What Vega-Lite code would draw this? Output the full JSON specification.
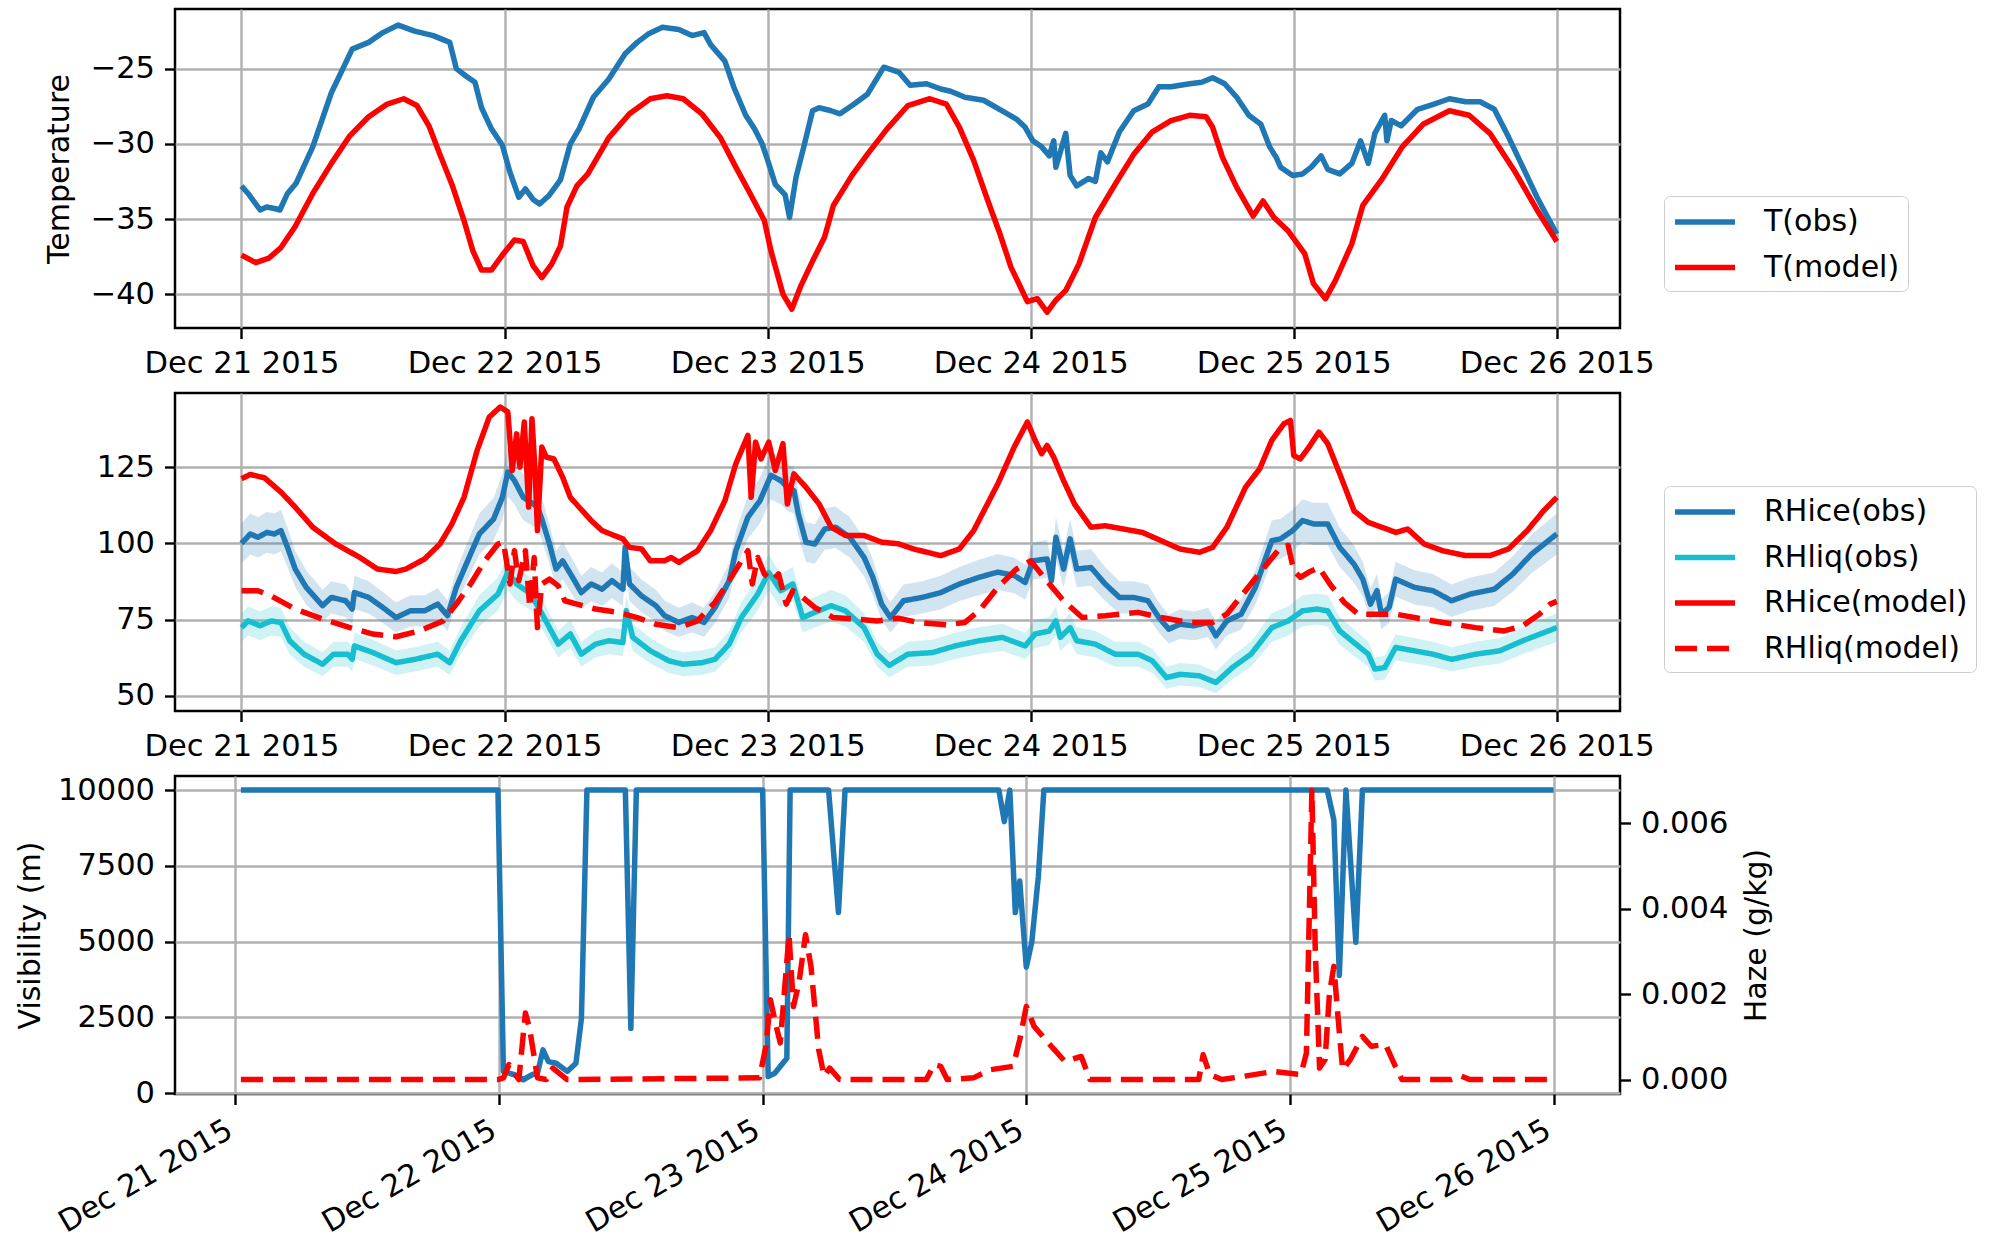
{
"$schema": "https://vega.github.io/schema/vega-lite/v6.json",
"background": "white",
"padding": {"left": 14, "top": 7, "right": 2, "bottom": 2},
"config": {
  "font": "DejaVu Sans",
  "view": {"stroke": "black", "strokeWidth": 2.5},
  "axis": {"domain": false, "grid": true, "gridColor": "#b0b0b0", "gridWidth": 2.4, "tickColor": "black", "tickSize": 10.5, "tickWidth": 2.4,
    "labelFont": "DejaVu Sans", "labelFontSize": 30.5, "labelColor": "black", "labelPadding": 10, "labelFlush": false, "labelOverlap": false, "labelLimit": 500,
    "titleFont": "DejaVu Sans", "titleFontSize": 30, "titleFontWeight": "normal", "titleColor": "black", "titlePadding": 12},
  "legend": {"labelFont": "DejaVu Sans", "labelFontSize": 30, "labelColor": "black", "labelLimit": 400, "symbolType": "M-2,0L2,0", "symbolSize": 900, "symbolStrokeWidth": 5.5,
    "symbolOffset": 15, "rowPadding": 12.5, "padding": 8, "labelOffset": 41, "fillColor": "white", "strokeColor": "#cccccc", "cornerRadius": 6}
},
"datasets": {
"temp": [
{"time":"2015-12-21T00:00","series":"T(obs)","value":-32.8},{"time":"2015-12-21T00:36","series":"T(obs)","value":-33.3},{"time":"2015-12-21T01:42","series":"T(obs)","value":-34.4},{"time":"2015-12-21T02:18","series":"T(obs)","value":-34.2},{"time":"2015-12-21T03:00","series":"T(obs)","value":-34.3},{"time":"2015-12-21T03:30","series":"T(obs)","value":-34.4},{"time":"2015-12-21T04:12","series":"T(obs)","value":-33.3},{"time":"2015-12-21T05:00","series":"T(obs)","value":-32.6},{"time":"2015-12-21T06:30","series":"T(obs)","value":-30.2},{"time":"2015-12-21T08:12","series":"T(obs)","value":-26.6},{"time":"2015-12-21T10:06","series":"T(obs)","value":-23.7},{"time":"2015-12-21T11:36","series":"T(obs)","value":-23.25},{"time":"2015-12-21T12:54","series":"T(obs)","value":-22.6},{"time":"2015-12-21T14:18","series":"T(obs)","value":-22.1},{"time":"2015-12-21T15:48","series":"T(obs)","value":-22.5},{"time":"2015-12-21T17:30","series":"T(obs)","value":-22.8},{"time":"2015-12-21T19:00","series":"T(obs)","value":-23.25},{"time":"2015-12-21T19:36","series":"T(obs)","value":-25.0},{"time":"2015-12-21T20:30","series":"T(obs)","value":-25.5},{"time":"2015-12-21T21:18","series":"T(obs)","value":-25.9},{"time":"2015-12-21T21:54","series":"T(obs)","value":-27.6},{"time":"2015-12-21T22:48","series":"T(obs)","value":-29.0},{"time":"2015-12-21T23:48","series":"T(obs)","value":-30.1},
{"time":"2015-12-22T00:30","series":"T(obs)","value":-31.9},{"time":"2015-12-22T01:18","series":"T(obs)","value":-33.55},{"time":"2015-12-22T01:54","series":"T(obs)","value":-33.0},{"time":"2015-12-22T02:36","series":"T(obs)","value":-33.7},{"time":"2015-12-22T03:12","series":"T(obs)","value":-34.0},{"time":"2015-12-22T04:06","series":"T(obs)","value":-33.4},{"time":"2015-12-22T05:06","series":"T(obs)","value":-32.4},{"time":"2015-12-22T06:00","series":"T(obs)","value":-30.0},{"time":"2015-12-22T06:48","series":"T(obs)","value":-29.0},{"time":"2015-12-22T08:06","series":"T(obs)","value":-26.9},{"time":"2015-12-22T09:30","series":"T(obs)","value":-25.7},{"time":"2015-12-22T11:00","series":"T(obs)","value":-24.0},{"time":"2015-12-22T12:06","series":"T(obs)","value":-23.25},{"time":"2015-12-22T13:06","series":"T(obs)","value":-22.7},{"time":"2015-12-22T14:24","series":"T(obs)","value":-22.25},{"time":"2015-12-22T15:54","series":"T(obs)","value":-22.4},{"time":"2015-12-22T17:06","series":"T(obs)","value":-22.8},{"time":"2015-12-22T18:12","series":"T(obs)","value":-22.6},{"time":"2015-12-22T18:48","series":"T(obs)","value":-23.4},{"time":"2015-12-22T20:06","series":"T(obs)","value":-24.5},{"time":"2015-12-22T20:54","series":"T(obs)","value":-26.2},{"time":"2015-12-22T22:00","series":"T(obs)","value":-28.1},{"time":"2015-12-22T22:48","series":"T(obs)","value":-29.0},{"time":"2015-12-22T23:30","series":"T(obs)","value":-30.0},
{"time":"2015-12-23T00:06","series":"T(obs)","value":-31.3},{"time":"2015-12-23T00:42","series":"T(obs)","value":-32.7},{"time":"2015-12-23T01:36","series":"T(obs)","value":-33.4},{"time":"2015-12-23T02:00","series":"T(obs)","value":-34.9},{"time":"2015-12-23T02:36","series":"T(obs)","value":-32.2},{"time":"2015-12-23T03:18","series":"T(obs)","value":-30.2},{"time":"2015-12-23T04:06","series":"T(obs)","value":-27.8},{"time":"2015-12-23T04:42","series":"T(obs)","value":-27.6},{"time":"2015-12-23T05:48","series":"T(obs)","value":-27.8},{"time":"2015-12-23T06:36","series":"T(obs)","value":-28.0},{"time":"2015-12-23T07:54","series":"T(obs)","value":-27.35},{"time":"2015-12-23T09:06","series":"T(obs)","value":-26.7},{"time":"2015-12-23T10:36","series":"T(obs)","value":-24.9},{"time":"2015-12-23T12:00","series":"T(obs)","value":-25.25},{"time":"2015-12-23T13:00","series":"T(obs)","value":-26.1},{"time":"2015-12-23T14:30","series":"T(obs)","value":-26.0},{"time":"2015-12-23T15:48","series":"T(obs)","value":-26.35},{"time":"2015-12-23T16:42","series":"T(obs)","value":-26.5},{"time":"2015-12-23T18:00","series":"T(obs)","value":-26.9},{"time":"2015-12-23T19:42","series":"T(obs)","value":-27.1},{"time":"2015-12-23T21:24","series":"T(obs)","value":-27.8},{"time":"2015-12-23T22:42","series":"T(obs)","value":-28.35},{"time":"2015-12-23T23:30","series":"T(obs)","value":-28.9},
{"time":"2015-12-24T00:12","series":"T(obs)","value":-29.8},{"time":"2015-12-24T01:00","series":"T(obs)","value":-30.2},{"time":"2015-12-24T01:42","series":"T(obs)","value":-30.8},{"time":"2015-12-24T02:06","series":"T(obs)","value":-29.8},{"time":"2015-12-24T02:18","series":"T(obs)","value":-31.55},{"time":"2015-12-24T03:12","series":"T(obs)","value":-29.3},{"time":"2015-12-24T03:36","series":"T(obs)","value":-32.1},{"time":"2015-12-24T04:12","series":"T(obs)","value":-32.8},{"time":"2015-12-24T05:18","series":"T(obs)","value":-32.3},{"time":"2015-12-24T05:54","series":"T(obs)","value":-32.5},{"time":"2015-12-24T06:24","series":"T(obs)","value":-30.6},{"time":"2015-12-24T07:00","series":"T(obs)","value":-31.2},{"time":"2015-12-24T08:06","series":"T(obs)","value":-29.2},{"time":"2015-12-24T09:24","series":"T(obs)","value":-27.8},{"time":"2015-12-24T10:42","series":"T(obs)","value":-27.35},{"time":"2015-12-24T11:42","series":"T(obs)","value":-26.2},{"time":"2015-12-24T12:48","series":"T(obs)","value":-26.2},{"time":"2015-12-24T14:30","series":"T(obs)","value":-26.0},{"time":"2015-12-24T15:36","series":"T(obs)","value":-25.9},{"time":"2015-12-24T16:36","series":"T(obs)","value":-25.6},{"time":"2015-12-24T17:42","series":"T(obs)","value":-26.0},{"time":"2015-12-24T18:48","series":"T(obs)","value":-26.9},{"time":"2015-12-24T19:54","series":"T(obs)","value":-28.1},{"time":"2015-12-24T21:00","series":"T(obs)","value":-28.7},{"time":"2015-12-24T21:48","series":"T(obs)","value":-30.2},{"time":"2015-12-24T22:24","series":"T(obs)","value":-30.9},{"time":"2015-12-24T22:48","series":"T(obs)","value":-31.55},{"time":"2015-12-24T23:54","series":"T(obs)","value":-32.1},
{"time":"2015-12-25T00:48","series":"T(obs)","value":-32.0},{"time":"2015-12-25T01:36","series":"T(obs)","value":-31.55},{"time":"2015-12-25T02:30","series":"T(obs)","value":-30.8},{"time":"2015-12-25T03:06","series":"T(obs)","value":-31.7},{"time":"2015-12-25T04:12","series":"T(obs)","value":-32.0},{"time":"2015-12-25T05:18","series":"T(obs)","value":-31.3},{"time":"2015-12-25T06:06","series":"T(obs)","value":-29.8},{"time":"2015-12-25T06:48","series":"T(obs)","value":-31.3},{"time":"2015-12-25T07:24","series":"T(obs)","value":-29.3},{"time":"2015-12-25T08:18","series":"T(obs)","value":-28.1},{"time":"2015-12-25T08:30","series":"T(obs)","value":-29.8},{"time":"2015-12-25T08:54","series":"T(obs)","value":-28.45},{"time":"2015-12-25T09:48","series":"T(obs)","value":-28.8},{"time":"2015-12-25T11:18","series":"T(obs)","value":-27.7},{"time":"2015-12-25T12:48","series":"T(obs)","value":-27.35},{"time":"2015-12-25T14:12","series":"T(obs)","value":-27.0},{"time":"2015-12-25T15:42","series":"T(obs)","value":-27.2},{"time":"2015-12-25T17:00","series":"T(obs)","value":-27.2},{"time":"2015-12-25T18:18","series":"T(obs)","value":-27.7},{"time":"2015-12-25T19:36","series":"T(obs)","value":-29.55},{"time":"2015-12-25T20:54","series":"T(obs)","value":-31.55},{"time":"2015-12-25T22:12","series":"T(obs)","value":-33.55},{"time":"2015-12-25T23:00","series":"T(obs)","value":-34.65},{"time":"2015-12-26T00:00","series":"T(obs)","value":-36.0},
{"time":"2015-12-21T00:00","series":"T(model)","value":-37.4},{"time":"2015-12-21T01:18","series":"T(model)","value":-37.9},{"time":"2015-12-21T02:30","series":"T(model)","value":-37.6},{"time":"2015-12-21T03:36","series":"T(model)","value":-36.9},{"time":"2015-12-21T04:54","series":"T(model)","value":-35.5},{"time":"2015-12-21T06:30","series":"T(model)","value":-33.3},{"time":"2015-12-21T08:12","series":"T(model)","value":-31.3},{"time":"2015-12-21T09:54","series":"T(model)","value":-29.45},{"time":"2015-12-21T11:36","series":"T(model)","value":-28.2},{"time":"2015-12-21T13:18","series":"T(model)","value":-27.35},{"time":"2015-12-21T14:48","series":"T(model)","value":-27.0},{"time":"2015-12-21T16:00","series":"T(model)","value":-27.45},{"time":"2015-12-21T17:06","series":"T(model)","value":-28.8},{"time":"2015-12-21T18:06","series":"T(model)","value":-30.7},{"time":"2015-12-21T19:12","series":"T(model)","value":-32.7},{"time":"2015-12-21T20:18","series":"T(model)","value":-35.1},{"time":"2015-12-21T21:06","series":"T(model)","value":-37.1},{"time":"2015-12-21T21:54","series":"T(model)","value":-38.4},{"time":"2015-12-21T22:48","series":"T(model)","value":-38.4},{"time":"2015-12-21T23:48","series":"T(model)","value":-37.4},
{"time":"2015-12-22T00:54","series":"T(model)","value":-36.4},{"time":"2015-12-22T01:42","series":"T(model)","value":-36.5},{"time":"2015-12-22T02:36","series":"T(model)","value":-38.1},{"time":"2015-12-22T03:24","series":"T(model)","value":-38.9},{"time":"2015-12-22T04:18","series":"T(model)","value":-38.0},{"time":"2015-12-22T05:06","series":"T(model)","value":-36.8},{"time":"2015-12-22T05:42","series":"T(model)","value":-34.2},{"time":"2015-12-22T06:36","series":"T(model)","value":-32.8},{"time":"2015-12-22T07:36","series":"T(model)","value":-32.0},{"time":"2015-12-22T09:30","series":"T(model)","value":-29.6},{"time":"2015-12-22T11:24","series":"T(model)","value":-28.0},{"time":"2015-12-22T13:18","series":"T(model)","value":-27.0},{"time":"2015-12-22T14:48","series":"T(model)","value":-26.8},{"time":"2015-12-22T16:18","series":"T(model)","value":-27.0},{"time":"2015-12-22T18:00","series":"T(model)","value":-28.0},{"time":"2015-12-22T19:42","series":"T(model)","value":-29.6},{"time":"2015-12-22T21:06","series":"T(model)","value":-31.55},{"time":"2015-12-22T22:24","series":"T(model)","value":-33.3},{"time":"2015-12-22T23:42","series":"T(model)","value":-35.1},
{"time":"2015-12-23T00:18","series":"T(model)","value":-37.1},{"time":"2015-12-23T01:24","series":"T(model)","value":-40.0},{"time":"2015-12-23T02:12","series":"T(model)","value":-41.0},{"time":"2015-12-23T03:00","series":"T(model)","value":-39.5},{"time":"2015-12-23T04:06","series":"T(model)","value":-37.8},{"time":"2015-12-23T05:12","series":"T(model)","value":-36.2},{"time":"2015-12-23T06:00","series":"T(model)","value":-34.1},{"time":"2015-12-23T07:42","series":"T(model)","value":-32.1},{"time":"2015-12-23T09:12","series":"T(model)","value":-30.6},{"time":"2015-12-23T10:54","series":"T(model)","value":-29.0},{"time":"2015-12-23T12:48","series":"T(model)","value":-27.45},{"time":"2015-12-23T14:48","series":"T(model)","value":-27.0},{"time":"2015-12-23T16:18","series":"T(model)","value":-27.35},{"time":"2015-12-23T17:30","series":"T(model)","value":-28.9},{"time":"2015-12-23T18:48","series":"T(model)","value":-31.1},{"time":"2015-12-23T20:06","series":"T(model)","value":-33.8},{"time":"2015-12-23T21:12","series":"T(model)","value":-36.0},{"time":"2015-12-23T22:12","series":"T(model)","value":-38.2},{"time":"2015-12-23T23:42","series":"T(model)","value":-40.5},
{"time":"2015-12-24T00:36","series":"T(model)","value":-40.3},{"time":"2015-12-24T01:30","series":"T(model)","value":-41.2},{"time":"2015-12-24T02:18","series":"T(model)","value":-40.4},{"time":"2015-12-24T03:12","series":"T(model)","value":-39.75},{"time":"2015-12-24T04:24","series":"T(model)","value":-38.0},{"time":"2015-12-24T05:54","series":"T(model)","value":-34.9},{"time":"2015-12-24T07:42","series":"T(model)","value":-32.7},{"time":"2015-12-24T09:24","series":"T(model)","value":-30.7},{"time":"2015-12-24T11:06","series":"T(model)","value":-29.2},{"time":"2015-12-24T12:48","series":"T(model)","value":-28.45},{"time":"2015-12-24T14:30","series":"T(model)","value":-28.1},{"time":"2015-12-24T16:00","series":"T(model)","value":-28.2},{"time":"2015-12-24T16:36","series":"T(model)","value":-28.9},{"time":"2015-12-24T17:30","series":"T(model)","value":-30.9},{"time":"2015-12-24T18:48","series":"T(model)","value":-32.9},{"time":"2015-12-24T20:18","series":"T(model)","value":-34.8},{"time":"2015-12-24T21:12","series":"T(model)","value":-33.8},{"time":"2015-12-24T22:12","series":"T(model)","value":-34.9},{"time":"2015-12-24T23:30","series":"T(model)","value":-35.8},
{"time":"2015-12-25T01:00","series":"T(model)","value":-37.3},{"time":"2015-12-25T01:48","series":"T(model)","value":-39.3},{"time":"2015-12-25T02:54","series":"T(model)","value":-40.3},{"time":"2015-12-25T03:48","series":"T(model)","value":-39.1},{"time":"2015-12-25T05:18","series":"T(model)","value":-36.65},{"time":"2015-12-25T06:18","series":"T(model)","value":-34.1},{"time":"2015-12-25T08:00","series":"T(model)","value":-32.4},{"time":"2015-12-25T09:54","series":"T(model)","value":-30.2},{"time":"2015-12-25T11:48","series":"T(model)","value":-28.7},{"time":"2015-12-25T14:12","series":"T(model)","value":-27.8},{"time":"2015-12-25T16:00","series":"T(model)","value":-28.1},{"time":"2015-12-25T17:54","series":"T(model)","value":-29.3},{"time":"2015-12-25T20:06","series":"T(model)","value":-31.75},{"time":"2015-12-25T22:12","series":"T(model)","value":-34.4},{"time":"2015-12-26T00:00","series":"T(model)","value":-36.5}
],
"rh": [
{"time":"2015-12-21T00:00","series":"RHice(obs)","value":100.0,"lo":93.5,"hi":106.5},{"time":"2015-12-21T00:48","series":"RHice(obs)","value":103.1,"lo":96.4,"hi":109.8},{"time":"2015-12-21T01:30","series":"RHice(obs)","value":102.0,"lo":95.4,"hi":108.6},{"time":"2015-12-21T02:18","series":"RHice(obs)","value":103.6,"lo":96.9,"hi":110.3},{"time":"2015-12-21T03:00","series":"RHice(obs)","value":103.1,"lo":96.4,"hi":109.8},{"time":"2015-12-21T03:36","series":"RHice(obs)","value":104.2,"lo":97.4,"hi":111.0},{"time":"2015-12-21T04:12","series":"RHice(obs)","value":98.7,"lo":92.3,"hi":105.1},{"time":"2015-12-21T04:54","series":"RHice(obs)","value":91.6,"lo":85.6,"hi":97.6},{"time":"2015-12-21T05:54","series":"RHice(obs)","value":85.6,"lo":80.0,"hi":91.2},{"time":"2015-12-21T07:24","series":"RHice(obs)","value":79.6,"lo":74.4,"hi":84.8},{"time":"2015-12-21T08:12","series":"RHice(obs)","value":82.3,"lo":77.0,"hi":87.6},{"time":"2015-12-21T09:30","series":"RHice(obs)","value":81.2,"lo":75.9,"hi":86.5},{"time":"2015-12-21T10:06","series":"RHice(obs)","value":78.5,"lo":73.4,"hi":83.6},{"time":"2015-12-21T10:18","series":"RHice(obs)","value":83.9,"lo":78.4,"hi":89.4},{"time":"2015-12-21T11:36","series":"RHice(obs)","value":82.3,"lo":77.0,"hi":87.6},{"time":"2015-12-21T12:54","series":"RHice(obs)","value":79.0,"lo":73.9,"hi":84.1},{"time":"2015-12-21T14:06","series":"RHice(obs)","value":75.7,"lo":70.8,"hi":80.6},{"time":"2015-12-21T15:24","series":"RHice(obs)","value":77.9,"lo":72.8,"hi":83.0},{"time":"2015-12-21T16:42","series":"RHice(obs)","value":77.9,"lo":72.8,"hi":83.0},{"time":"2015-12-21T17:54","series":"RHice(obs)","value":80.1,"lo":74.9,"hi":85.3},{"time":"2015-12-21T18:48","series":"RHice(obs)","value":76.3,"lo":71.3,"hi":81.3},{"time":"2015-12-21T19:36","series":"RHice(obs)","value":85.6,"lo":80.0,"hi":91.2},{"time":"2015-12-21T20:54","series":"RHice(obs)","value":96.5,"lo":90.2,"hi":102.8},{"time":"2015-12-21T21:42","series":"RHice(obs)","value":103.1,"lo":96.4,"hi":109.8},{"time":"2015-12-21T23:00","series":"RHice(obs)","value":108.0,"lo":101.0,"hi":115.0},{"time":"2015-12-21T23:48","series":"RHice(obs)","value":115.1,"lo":107.6,"hi":122.6},
{"time":"2015-12-22T00:18","series":"RHice(obs)","value":123.4,"lo":115.4,"hi":131.4},{"time":"2015-12-22T00:54","series":"RHice(obs)","value":120.6,"lo":112.8,"hi":128.4},{"time":"2015-12-22T01:42","series":"RHice(obs)","value":115.1,"lo":107.6,"hi":122.6},{"time":"2015-12-22T02:24","series":"RHice(obs)","value":113.5,"lo":106.1,"hi":120.9},{"time":"2015-12-22T03:00","series":"RHice(obs)","value":111.9,"lo":104.6,"hi":119.2},{"time":"2015-12-22T03:24","series":"RHice(obs)","value":108.0,"lo":101.0,"hi":115.0},{"time":"2015-12-22T04:06","series":"RHice(obs)","value":99.8,"lo":93.3,"hi":106.3},{"time":"2015-12-22T04:42","series":"RHice(obs)","value":91.6,"lo":85.6,"hi":97.6},{"time":"2015-12-22T05:18","series":"RHice(obs)","value":94.3,"lo":88.2,"hi":100.4},{"time":"2015-12-22T06:12","series":"RHice(obs)","value":88.9,"lo":83.1,"hi":94.7},{"time":"2015-12-22T07:00","series":"RHice(obs)","value":83.9,"lo":78.4,"hi":89.4},{"time":"2015-12-22T07:54","series":"RHice(obs)","value":86.7,"lo":81.1,"hi":92.3},{"time":"2015-12-22T08:54","series":"RHice(obs)","value":85.0,"lo":79.5,"hi":90.5},{"time":"2015-12-22T09:48","series":"RHice(obs)","value":87.8,"lo":82.1,"hi":93.5},{"time":"2015-12-22T10:48","series":"RHice(obs)","value":85.0,"lo":79.5,"hi":90.5},{"time":"2015-12-22T11:00","series":"RHice(obs)","value":98.7,"lo":92.3,"hi":105.1},{"time":"2015-12-22T11:24","series":"RHice(obs)","value":86.7,"lo":81.1,"hi":92.3},{"time":"2015-12-22T12:30","series":"RHice(obs)","value":82.8,"lo":77.4,"hi":88.2},{"time":"2015-12-22T13:48","series":"RHice(obs)","value":79.6,"lo":74.4,"hi":84.8},{"time":"2015-12-22T14:36","series":"RHice(obs)","value":76.3,"lo":71.3,"hi":81.3},{"time":"2015-12-22T15:54","series":"RHice(obs)","value":74.1,"lo":69.3,"hi":78.9},{"time":"2015-12-22T17:06","series":"RHice(obs)","value":75.7,"lo":70.8,"hi":80.6},{"time":"2015-12-22T18:12","series":"RHice(obs)","value":74.1,"lo":69.3,"hi":78.9},{"time":"2015-12-22T19:12","series":"RHice(obs)","value":79.0,"lo":73.9,"hi":84.1},{"time":"2015-12-22T20:30","series":"RHice(obs)","value":87.8,"lo":82.1,"hi":93.5},{"time":"2015-12-22T21:06","series":"RHice(obs)","value":97.6,"lo":91.3,"hi":103.9},{"time":"2015-12-22T22:12","series":"RHice(obs)","value":108.6,"lo":101.5,"hi":115.7},{"time":"2015-12-22T23:18","series":"RHice(obs)","value":114.0,"lo":106.6,"hi":121.4},
{"time":"2015-12-23T00:18","series":"RHice(obs)","value":122.3,"lo":114.4,"hi":130.2},{"time":"2015-12-23T01:12","series":"RHice(obs)","value":120.6,"lo":112.8,"hi":128.4},{"time":"2015-12-23T01:48","series":"RHice(obs)","value":118.4,"lo":110.7,"hi":126.1},{"time":"2015-12-23T02:24","series":"RHice(obs)","value":117.3,"lo":109.7,"hi":124.9},{"time":"2015-12-23T02:48","series":"RHice(obs)","value":109.7,"lo":102.6,"hi":116.8},{"time":"2015-12-23T03:30","series":"RHice(obs)","value":100.4,"lo":93.9,"hi":106.9},{"time":"2015-12-23T04:18","series":"RHice(obs)","value":99.8,"lo":93.3,"hi":106.3},{"time":"2015-12-23T05:12","series":"RHice(obs)","value":104.7,"lo":97.9,"hi":111.5},{"time":"2015-12-23T06:12","series":"RHice(obs)","value":105.3,"lo":98.5,"hi":112.1},{"time":"2015-12-23T07:30","series":"RHice(obs)","value":102.0,"lo":95.4,"hi":108.6},{"time":"2015-12-23T08:48","series":"RHice(obs)","value":95.4,"lo":89.2,"hi":101.6},{"time":"2015-12-23T09:36","series":"RHice(obs)","value":88.9,"lo":83.1,"hi":94.7},{"time":"2015-12-23T10:24","series":"RHice(obs)","value":80.1,"lo":74.9,"hi":85.3},{"time":"2015-12-23T11:12","series":"RHice(obs)","value":75.7,"lo":70.8,"hi":80.6},{"time":"2015-12-23T12:24","series":"RHice(obs)","value":81.2,"lo":75.9,"hi":86.5},{"time":"2015-12-23T14:06","series":"RHice(obs)","value":82.3,"lo":77.0,"hi":87.6},{"time":"2015-12-23T15:48","series":"RHice(obs)","value":83.9,"lo":78.4,"hi":89.4},{"time":"2015-12-23T17:30","series":"RHice(obs)","value":86.7,"lo":81.1,"hi":92.3},{"time":"2015-12-23T19:18","series":"RHice(obs)","value":88.9,"lo":83.1,"hi":94.7},{"time":"2015-12-23T21:00","series":"RHice(obs)","value":90.6,"lo":84.7,"hi":96.5},{"time":"2015-12-23T22:30","series":"RHice(obs)","value":89.5,"lo":83.7,"hi":95.3},{"time":"2015-12-23T23:30","series":"RHice(obs)","value":87.2,"lo":81.5,"hi":92.9},
{"time":"2015-12-24T00:12","series":"RHice(obs)","value":94.3,"lo":88.2,"hi":100.4},{"time":"2015-12-24T01:30","series":"RHice(obs)","value":94.9,"lo":88.7,"hi":101.1},{"time":"2015-12-24T01:54","series":"RHice(obs)","value":87.8,"lo":82.1,"hi":93.5},{"time":"2015-12-24T02:18","series":"RHice(obs)","value":102.0,"lo":95.4,"hi":108.6},{"time":"2015-12-24T03:00","series":"RHice(obs)","value":91.6,"lo":85.6,"hi":97.6},{"time":"2015-12-24T03:36","series":"RHice(obs)","value":101.5,"lo":94.9,"hi":108.1},{"time":"2015-12-24T04:12","series":"RHice(obs)","value":91.6,"lo":85.6,"hi":97.6},{"time":"2015-12-24T05:30","series":"RHice(obs)","value":92.1,"lo":86.1,"hi":98.1},{"time":"2015-12-24T06:48","series":"RHice(obs)","value":86.7,"lo":81.1,"hi":92.3},{"time":"2015-12-24T08:06","series":"RHice(obs)","value":82.3,"lo":77.0,"hi":87.6},{"time":"2015-12-24T09:24","series":"RHice(obs)","value":82.3,"lo":77.0,"hi":87.6},{"time":"2015-12-24T10:42","series":"RHice(obs)","value":81.2,"lo":75.9,"hi":86.5},{"time":"2015-12-24T11:42","series":"RHice(obs)","value":75.7,"lo":70.8,"hi":80.6},{"time":"2015-12-24T12:36","series":"RHice(obs)","value":71.9,"lo":67.2,"hi":76.6},{"time":"2015-12-24T13:36","series":"RHice(obs)","value":73.5,"lo":68.7,"hi":78.3},{"time":"2015-12-24T14:54","series":"RHice(obs)","value":73.0,"lo":68.3,"hi":77.7},{"time":"2015-12-24T16:12","series":"RHice(obs)","value":74.1,"lo":69.3,"hi":78.9},{"time":"2015-12-24T16:54","series":"RHice(obs)","value":69.7,"lo":65.2,"hi":74.2},{"time":"2015-12-24T17:54","series":"RHice(obs)","value":74.6,"lo":69.8,"hi":79.4},{"time":"2015-12-24T19:12","series":"RHice(obs)","value":76.8,"lo":71.8,"hi":81.8},{"time":"2015-12-24T20:30","series":"RHice(obs)","value":85.6,"lo":80.0,"hi":91.2},{"time":"2015-12-24T22:00","series":"RHice(obs)","value":100.9,"lo":94.3,"hi":107.5},{"time":"2015-12-24T22:48","series":"RHice(obs)","value":101.5,"lo":94.9,"hi":108.1},{"time":"2015-12-24T23:54","series":"RHice(obs)","value":104.2,"lo":97.4,"hi":111.0},
{"time":"2015-12-25T00:48","series":"RHice(obs)","value":107.5,"lo":100.5,"hi":114.5},{"time":"2015-12-25T01:48","series":"RHice(obs)","value":106.4,"lo":99.5,"hi":113.3},{"time":"2015-12-25T03:06","series":"RHice(obs)","value":106.4,"lo":99.5,"hi":113.3},{"time":"2015-12-25T04:12","series":"RHice(obs)","value":98.7,"lo":92.3,"hi":105.1},{"time":"2015-12-25T05:30","series":"RHice(obs)","value":93.2,"lo":87.1,"hi":99.3},{"time":"2015-12-25T06:18","series":"RHice(obs)","value":88.3,"lo":82.6,"hi":94.0},{"time":"2015-12-25T07:00","series":"RHice(obs)","value":80.1,"lo":74.9,"hi":85.3},{"time":"2015-12-25T07:36","series":"RHice(obs)","value":84.5,"lo":79.0,"hi":90.0},{"time":"2015-12-25T08:00","series":"RHice(obs)","value":76.8,"lo":71.8,"hi":81.8},{"time":"2015-12-25T08:42","series":"RHice(obs)","value":79.0,"lo":73.9,"hi":84.1},{"time":"2015-12-25T09:18","series":"RHice(obs)","value":88.3,"lo":82.6,"hi":94.0},{"time":"2015-12-25T11:00","series":"RHice(obs)","value":85.6,"lo":80.0,"hi":91.2},{"time":"2015-12-25T12:42","series":"RHice(obs)","value":84.5,"lo":79.0,"hi":90.0},{"time":"2015-12-25T14:24","series":"RHice(obs)","value":81.2,"lo":75.9,"hi":86.5},{"time":"2015-12-25T16:06","series":"RHice(obs)","value":83.4,"lo":78.0,"hi":88.8},{"time":"2015-12-25T18:18","series":"RHice(obs)","value":85.0,"lo":79.5,"hi":90.5},{"time":"2015-12-25T20:00","series":"RHice(obs)","value":90.0,"lo":84.2,"hi":95.9},{"time":"2015-12-25T21:42","series":"RHice(obs)","value":96.5,"lo":90.2,"hi":102.8},{"time":"2015-12-26T00:00","series":"RHice(obs)","value":103.1,"lo":96.4,"hi":109.8},
{"time":"2015-12-21T00:00","series":"RHliq(obs)","value":72.4,"lo":67.7,"hi":77.1},{"time":"2015-12-21T00:36","series":"RHliq(obs)","value":74.6,"lo":69.8,"hi":79.4},{"time":"2015-12-21T01:42","series":"RHliq(obs)","value":73.0,"lo":68.3,"hi":77.7},{"time":"2015-12-21T02:42","series":"RHliq(obs)","value":74.6,"lo":69.8,"hi":79.4},{"time":"2015-12-21T03:36","series":"RHliq(obs)","value":74.1,"lo":69.3,"hi":78.9},{"time":"2015-12-21T04:24","series":"RHliq(obs)","value":68.1,"lo":63.7,"hi":72.5},{"time":"2015-12-21T05:42","series":"RHliq(obs)","value":63.7,"lo":59.6,"hi":67.8},{"time":"2015-12-21T07:24","series":"RHliq(obs)","value":60.4,"lo":56.5,"hi":64.3},{"time":"2015-12-21T08:24","series":"RHliq(obs)","value":63.7,"lo":59.6,"hi":67.8},{"time":"2015-12-21T09:42","series":"RHliq(obs)","value":63.7,"lo":59.6,"hi":67.8},{"time":"2015-12-21T10:06","series":"RHliq(obs)","value":62.0,"lo":58.0,"hi":66.0},{"time":"2015-12-21T10:18","series":"RHliq(obs)","value":66.4,"lo":62.1,"hi":70.7},{"time":"2015-12-21T12:00","series":"RHliq(obs)","value":64.2,"lo":60.0,"hi":68.4},{"time":"2015-12-21T14:06","series":"RHliq(obs)","value":60.9,"lo":56.9,"hi":64.9},{"time":"2015-12-21T15:48","series":"RHliq(obs)","value":62.0,"lo":58.0,"hi":66.0},{"time":"2015-12-21T17:54","series":"RHliq(obs)","value":63.7,"lo":59.6,"hi":67.8},{"time":"2015-12-21T19:00","series":"RHliq(obs)","value":60.9,"lo":56.9,"hi":64.9},{"time":"2015-12-21T20:00","series":"RHliq(obs)","value":68.1,"lo":63.7,"hi":72.5},{"time":"2015-12-21T21:42","series":"RHliq(obs)","value":77.9,"lo":72.8,"hi":83.0},{"time":"2015-12-21T23:24","series":"RHliq(obs)","value":83.4,"lo":78.0,"hi":88.8},
{"time":"2015-12-22T00:18","series":"RHliq(obs)","value":90.5,"lo":84.6,"hi":96.4},{"time":"2015-12-22T01:06","series":"RHliq(obs)","value":86.7,"lo":81.1,"hi":92.3},{"time":"2015-12-22T02:24","series":"RHliq(obs)","value":83.4,"lo":78.0,"hi":88.8},{"time":"2015-12-22T03:36","series":"RHliq(obs)","value":75.7,"lo":70.8,"hi":80.6},{"time":"2015-12-22T04:54","series":"RHliq(obs)","value":67.0,"lo":62.6,"hi":71.4},{"time":"2015-12-22T06:00","series":"RHliq(obs)","value":70.3,"lo":65.7,"hi":74.9},{"time":"2015-12-22T07:00","series":"RHliq(obs)","value":63.7,"lo":59.6,"hi":67.8},{"time":"2015-12-22T08:18","series":"RHliq(obs)","value":67.0,"lo":62.6,"hi":71.4},{"time":"2015-12-22T09:30","series":"RHliq(obs)","value":68.1,"lo":63.7,"hi":72.5},{"time":"2015-12-22T10:48","series":"RHliq(obs)","value":67.5,"lo":63.1,"hi":71.9},{"time":"2015-12-22T11:06","series":"RHliq(obs)","value":77.9,"lo":72.8,"hi":83.0},{"time":"2015-12-22T11:42","series":"RHliq(obs)","value":69.2,"lo":64.7,"hi":73.7},{"time":"2015-12-22T13:18","series":"RHliq(obs)","value":64.8,"lo":60.6,"hi":69.0},{"time":"2015-12-22T15:00","series":"RHliq(obs)","value":61.5,"lo":57.5,"hi":65.5},{"time":"2015-12-22T16:18","series":"RHliq(obs)","value":60.4,"lo":56.5,"hi":64.3},{"time":"2015-12-22T18:00","series":"RHliq(obs)","value":60.9,"lo":56.9,"hi":64.9},{"time":"2015-12-22T19:12","series":"RHliq(obs)","value":62.0,"lo":58.0,"hi":66.0},{"time":"2015-12-22T20:30","series":"RHliq(obs)","value":67.0,"lo":62.6,"hi":71.4},{"time":"2015-12-22T21:36","series":"RHliq(obs)","value":75.7,"lo":70.8,"hi":80.6},{"time":"2015-12-22T23:06","series":"RHliq(obs)","value":83.4,"lo":78.0,"hi":88.8},
{"time":"2015-12-23T00:06","series":"RHliq(obs)","value":90.5,"lo":84.6,"hi":96.4},{"time":"2015-12-23T01:12","series":"RHliq(obs)","value":84.5,"lo":79.0,"hi":90.0},{"time":"2015-12-23T02:18","series":"RHliq(obs)","value":86.7,"lo":81.1,"hi":92.3},{"time":"2015-12-23T03:12","series":"RHliq(obs)","value":75.7,"lo":70.8,"hi":80.6},{"time":"2015-12-23T04:18","series":"RHliq(obs)","value":77.4,"lo":72.4,"hi":82.4},{"time":"2015-12-23T05:48","series":"RHliq(obs)","value":79.6,"lo":74.4,"hi":84.8},{"time":"2015-12-23T07:06","series":"RHliq(obs)","value":77.9,"lo":72.8,"hi":83.0},{"time":"2015-12-23T08:48","series":"RHliq(obs)","value":72.4,"lo":67.7,"hi":77.1},{"time":"2015-12-23T10:00","series":"RHliq(obs)","value":63.7,"lo":59.6,"hi":67.8},{"time":"2015-12-23T11:06","series":"RHliq(obs)","value":60.0,"lo":56.1,"hi":63.9},{"time":"2015-12-23T12:48","series":"RHliq(obs)","value":63.7,"lo":59.6,"hi":67.8},{"time":"2015-12-23T15:00","series":"RHliq(obs)","value":64.2,"lo":60.0,"hi":68.4},{"time":"2015-12-23T17:06","series":"RHliq(obs)","value":66.4,"lo":62.1,"hi":70.7},{"time":"2015-12-23T19:18","series":"RHliq(obs)","value":68.1,"lo":63.7,"hi":72.5},{"time":"2015-12-23T21:24","series":"RHliq(obs)","value":69.2,"lo":64.7,"hi":73.7},{"time":"2015-12-23T23:30","series":"RHliq(obs)","value":66.4,"lo":62.1,"hi":70.7},
{"time":"2015-12-24T00:24","series":"RHliq(obs)","value":70.3,"lo":65.7,"hi":74.9},{"time":"2015-12-24T01:42","series":"RHliq(obs)","value":71.3,"lo":66.7,"hi":75.9},{"time":"2015-12-24T02:18","series":"RHliq(obs)","value":74.6,"lo":69.8,"hi":79.4},{"time":"2015-12-24T02:42","series":"RHliq(obs)","value":69.2,"lo":64.7,"hi":73.7},{"time":"2015-12-24T03:36","series":"RHliq(obs)","value":72.4,"lo":67.7,"hi":77.1},{"time":"2015-12-24T04:12","series":"RHliq(obs)","value":68.1,"lo":63.7,"hi":72.5},{"time":"2015-12-24T05:54","series":"RHliq(obs)","value":67.0,"lo":62.6,"hi":71.4},{"time":"2015-12-24T07:42","series":"RHliq(obs)","value":63.7,"lo":59.6,"hi":67.8},{"time":"2015-12-24T09:48","series":"RHliq(obs)","value":63.7,"lo":59.6,"hi":67.8},{"time":"2015-12-24T11:06","series":"RHliq(obs)","value":61.5,"lo":57.5,"hi":65.5},{"time":"2015-12-24T12:24","series":"RHliq(obs)","value":56.0,"lo":52.4,"hi":59.6},{"time":"2015-12-24T13:36","series":"RHliq(obs)","value":57.1,"lo":53.4,"hi":60.8},{"time":"2015-12-24T15:24","series":"RHliq(obs)","value":56.6,"lo":52.9,"hi":60.3},{"time":"2015-12-24T16:54","series":"RHliq(obs)","value":54.4,"lo":50.9,"hi":57.9},{"time":"2015-12-24T18:24","series":"RHliq(obs)","value":59.3,"lo":55.4,"hi":63.2},{"time":"2015-12-24T20:06","series":"RHliq(obs)","value":63.7,"lo":59.6,"hi":67.8},{"time":"2015-12-24T22:00","series":"RHliq(obs)","value":72.4,"lo":67.7,"hi":77.1},{"time":"2015-12-24T23:30","series":"RHliq(obs)","value":74.6,"lo":69.8,"hi":79.4},
{"time":"2015-12-25T00:48","series":"RHliq(obs)","value":77.9,"lo":72.8,"hi":83.0},{"time":"2015-12-25T02:06","series":"RHliq(obs)","value":78.5,"lo":73.4,"hi":83.6},{"time":"2015-12-25T03:06","series":"RHliq(obs)","value":77.9,"lo":72.8,"hi":83.0},{"time":"2015-12-25T04:12","series":"RHliq(obs)","value":71.3,"lo":66.7,"hi":75.9},{"time":"2015-12-25T05:30","series":"RHliq(obs)","value":67.5,"lo":63.1,"hi":71.9},{"time":"2015-12-25T06:48","series":"RHliq(obs)","value":63.7,"lo":59.6,"hi":67.8},{"time":"2015-12-25T07:24","series":"RHliq(obs)","value":58.8,"lo":55.0,"hi":62.6},{"time":"2015-12-25T08:18","series":"RHliq(obs)","value":59.3,"lo":55.4,"hi":63.2},{"time":"2015-12-25T09:18","series":"RHliq(obs)","value":65.9,"lo":61.6,"hi":70.2},{"time":"2015-12-25T11:00","series":"RHliq(obs)","value":64.8,"lo":60.6,"hi":69.0},{"time":"2015-12-25T12:42","series":"RHliq(obs)","value":63.7,"lo":59.6,"hi":67.8},{"time":"2015-12-25T14:24","series":"RHliq(obs)","value":62.0,"lo":58.0,"hi":66.0},{"time":"2015-12-25T16:36","series":"RHliq(obs)","value":63.7,"lo":59.6,"hi":67.8},{"time":"2015-12-25T18:48","series":"RHliq(obs)","value":64.8,"lo":60.6,"hi":69.0},{"time":"2015-12-25T20:54","series":"RHliq(obs)","value":68.1,"lo":63.7,"hi":72.5},{"time":"2015-12-26T00:00","series":"RHliq(obs)","value":72.4,"lo":67.7,"hi":77.1},
{"time":"2015-12-21T00:00","series":"RHice(model)","value":121.2},{"time":"2015-12-21T00:48","series":"RHice(model)","value":122.6},{"time":"2015-12-21T02:06","series":"RHice(model)","value":121.5},{"time":"2015-12-21T03:36","series":"RHice(model)","value":116.8},{"time":"2015-12-21T04:54","series":"RHice(model)","value":111.9},{"time":"2015-12-21T06:30","series":"RHice(model)","value":105.3},{"time":"2015-12-21T08:36","series":"RHice(model)","value":99.8},{"time":"2015-12-21T10:48","series":"RHice(model)","value":95.4},{"time":"2015-12-21T12:24","series":"RHice(model)","value":91.6},{"time":"2015-12-21T14:06","series":"RHice(model)","value":90.8},{"time":"2015-12-21T15:00","series":"RHice(model)","value":91.6},{"time":"2015-12-21T16:42","series":"RHice(model)","value":94.9},{"time":"2015-12-21T18:06","series":"RHice(model)","value":99.8},{"time":"2015-12-21T19:12","series":"RHice(model)","value":106.4},{"time":"2015-12-21T20:18","series":"RHice(model)","value":115.1},{"time":"2015-12-21T21:30","series":"RHice(model)","value":130.5},{"time":"2015-12-21T22:36","series":"RHice(model)","value":141.4},{"time":"2015-12-21T23:36","series":"RHice(model)","value":144.7},
{"time":"2015-12-22T00:18","series":"RHice(model)","value":143.1},{"time":"2015-12-22T00:42","series":"RHice(model)","value":123.9},{"time":"2015-12-22T01:06","series":"RHice(model)","value":135.9},{"time":"2015-12-22T01:24","series":"RHice(model)","value":125.0},{"time":"2015-12-22T01:48","series":"RHice(model)","value":139.8},{"time":"2015-12-22T02:12","series":"RHice(model)","value":111.9},{"time":"2015-12-22T02:30","series":"RHice(model)","value":140.9},{"time":"2015-12-22T02:48","series":"RHice(model)","value":122.8},{"time":"2015-12-22T03:00","series":"RHice(model)","value":104.2},{"time":"2015-12-22T03:24","series":"RHice(model)","value":131.6},{"time":"2015-12-22T03:48","series":"RHice(model)","value":128.3},{"time":"2015-12-22T04:30","series":"RHice(model)","value":127.7},{"time":"2015-12-22T05:18","series":"RHice(model)","value":121.7},{"time":"2015-12-22T06:00","series":"RHice(model)","value":115.1},{"time":"2015-12-22T06:48","series":"RHice(model)","value":111.9},{"time":"2015-12-22T07:54","series":"RHice(model)","value":107.5},{"time":"2015-12-22T08:54","series":"RHice(model)","value":104.2},{"time":"2015-12-22T10:00","series":"RHice(model)","value":102.6},{"time":"2015-12-22T10:48","series":"RHice(model)","value":101.5},{"time":"2015-12-22T11:24","series":"RHice(model)","value":98.7},{"time":"2015-12-22T12:30","series":"RHice(model)","value":98.2},{"time":"2015-12-22T13:18","series":"RHice(model)","value":94.3},{"time":"2015-12-22T14:36","series":"RHice(model)","value":94.3},{"time":"2015-12-22T15:12","series":"RHice(model)","value":95.4},{"time":"2015-12-22T15:54","series":"RHice(model)","value":93.8},{"time":"2015-12-22T17:36","series":"RHice(model)","value":97.6},{"time":"2015-12-22T18:48","series":"RHice(model)","value":104.2},{"time":"2015-12-22T20:06","series":"RHice(model)","value":114.0},{"time":"2015-12-22T21:06","series":"RHice(model)","value":126.1},{"time":"2015-12-22T22:12","series":"RHice(model)","value":135.4},{"time":"2015-12-22T22:30","series":"RHice(model)","value":115.1},{"time":"2015-12-22T22:54","series":"RHice(model)","value":133.2},{"time":"2015-12-22T23:24","series":"RHice(model)","value":127.7},
{"time":"2015-12-23T00:06","series":"RHice(model)","value":133.2},{"time":"2015-12-23T00:42","series":"RHice(model)","value":123.9},{"time":"2015-12-23T01:24","series":"RHice(model)","value":132.7},{"time":"2015-12-23T01:48","series":"RHice(model)","value":112.9},{"time":"2015-12-23T02:24","series":"RHice(model)","value":122.8},{"time":"2015-12-23T03:30","series":"RHice(model)","value":118.4},{"time":"2015-12-23T04:42","series":"RHice(model)","value":112.9},{"time":"2015-12-23T05:48","series":"RHice(model)","value":105.3},{"time":"2015-12-23T07:06","series":"RHice(model)","value":102.6},{"time":"2015-12-23T08:48","series":"RHice(model)","value":102.6},{"time":"2015-12-23T10:24","series":"RHice(model)","value":100.4},{"time":"2015-12-23T11:54","series":"RHice(model)","value":99.9},{"time":"2015-12-23T13:18","series":"RHice(model)","value":98.2},{"time":"2015-12-23T15:48","series":"RHice(model)","value":96.0},{"time":"2015-12-23T17:30","series":"RHice(model)","value":98.2},{"time":"2015-12-23T18:48","series":"RHice(model)","value":104.2},{"time":"2015-12-23T21:00","series":"RHice(model)","value":119.5},{"time":"2015-12-23T22:30","series":"RHice(model)","value":131.6},{"time":"2015-12-23T23:42","series":"RHice(model)","value":139.8},
{"time":"2015-12-24T00:24","series":"RHice(model)","value":133.8},{"time":"2015-12-24T01:00","series":"RHice(model)","value":129.4},{"time":"2015-12-24T01:30","series":"RHice(model)","value":132.1},{"time":"2015-12-24T02:06","series":"RHice(model)","value":128.3},{"time":"2015-12-24T03:00","series":"RHice(model)","value":120.6},{"time":"2015-12-24T04:00","series":"RHice(model)","value":112.9},{"time":"2015-12-24T05:30","series":"RHice(model)","value":105.3},{"time":"2015-12-24T06:48","series":"RHice(model)","value":105.8},{"time":"2015-12-24T08:30","series":"RHice(model)","value":104.7},{"time":"2015-12-24T10:12","series":"RHice(model)","value":103.6},{"time":"2015-12-24T11:54","series":"RHice(model)","value":100.9},{"time":"2015-12-24T13:36","series":"RHice(model)","value":98.2},{"time":"2015-12-24T15:24","series":"RHice(model)","value":97.1},{"time":"2015-12-24T16:36","series":"RHice(model)","value":98.7},{"time":"2015-12-24T17:54","series":"RHice(model)","value":105.3},{"time":"2015-12-24T19:36","series":"RHice(model)","value":118.4},{"time":"2015-12-24T20:54","series":"RHice(model)","value":124.5},{"time":"2015-12-24T22:00","series":"RHice(model)","value":133.8},{"time":"2015-12-24T23:06","series":"RHice(model)","value":139.2},{"time":"2015-12-24T23:42","series":"RHice(model)","value":140.3},
{"time":"2015-12-25T00:00","series":"RHice(model)","value":128.8},{"time":"2015-12-25T00:36","series":"RHice(model)","value":127.7},{"time":"2015-12-25T01:24","series":"RHice(model)","value":131.6},{"time":"2015-12-25T02:18","series":"RHice(model)","value":136.5},{"time":"2015-12-25T03:06","series":"RHice(model)","value":132.7},{"time":"2015-12-25T04:12","series":"RHice(model)","value":122.8},{"time":"2015-12-25T05:30","series":"RHice(model)","value":110.7},{"time":"2015-12-25T06:48","series":"RHice(model)","value":106.9},{"time":"2015-12-25T08:30","series":"RHice(model)","value":104.7},{"time":"2015-12-25T09:18","series":"RHice(model)","value":103.6},{"time":"2015-12-25T10:24","series":"RHice(model)","value":104.7},{"time":"2015-12-25T11:54","series":"RHice(model)","value":99.8},{"time":"2015-12-25T13:36","series":"RHice(model)","value":97.6},{"time":"2015-12-25T15:42","series":"RHice(model)","value":96.0},{"time":"2015-12-25T17:54","series":"RHice(model)","value":96.0},{"time":"2015-12-25T19:36","series":"RHice(model)","value":98.2},{"time":"2015-12-25T21:18","series":"RHice(model)","value":104.2},{"time":"2015-12-25T22:48","series":"RHice(model)","value":110.7},{"time":"2015-12-26T00:00","series":"RHice(model)","value":115.1},
{"time":"2015-12-21T00:00","series":"RHliq(model)","value":84.5},{"time":"2015-12-21T01:30","series":"RHliq(model)","value":84.5},{"time":"2015-12-21T02:42","series":"RHliq(model)","value":82.8},{"time":"2015-12-21T04:54","series":"RHliq(model)","value":78.5},{"time":"2015-12-21T07:24","series":"RHliq(model)","value":75.2},{"time":"2015-12-21T09:54","series":"RHliq(model)","value":72.4},{"time":"2015-12-21T12:00","series":"RHliq(model)","value":70.3},{"time":"2015-12-21T14:06","series":"RHliq(model)","value":69.4},{"time":"2015-12-21T16:12","series":"RHliq(model)","value":71.3},{"time":"2015-12-21T18:24","series":"RHliq(model)","value":74.6},{"time":"2015-12-21T19:36","series":"RHliq(model)","value":80.1},{"time":"2015-12-21T20:54","series":"RHliq(model)","value":86.7},{"time":"2015-12-21T22:12","series":"RHliq(model)","value":94.3},{"time":"2015-12-21T23:24","series":"RHliq(model)","value":99.8},{"time":"2015-12-21T23:54","series":"RHliq(model)","value":100.4},
{"time":"2015-12-22T00:30","series":"RHliq(model)","value":86.7},{"time":"2015-12-22T00:54","series":"RHliq(model)","value":97.6},{"time":"2015-12-22T01:18","series":"RHliq(model)","value":87.8},{"time":"2015-12-22T01:54","series":"RHliq(model)","value":97.6},{"time":"2015-12-22T02:18","series":"RHliq(model)","value":79.0},{"time":"2015-12-22T02:42","series":"RHliq(model)","value":95.4},{"time":"2015-12-22T03:00","series":"RHliq(model)","value":72.4},{"time":"2015-12-22T03:24","series":"RHliq(model)","value":86.7},{"time":"2015-12-22T04:06","series":"RHliq(model)","value":88.3},{"time":"2015-12-22T04:54","series":"RHliq(model)","value":86.1},{"time":"2015-12-22T05:30","series":"RHliq(model)","value":81.2},{"time":"2015-12-22T06:36","series":"RHliq(model)","value":80.1},{"time":"2015-12-22T08:18","series":"RHliq(model)","value":78.5},{"time":"2015-12-22T10:24","series":"RHliq(model)","value":77.4},{"time":"2015-12-22T12:06","series":"RHliq(model)","value":75.7},{"time":"2015-12-22T13:48","series":"RHliq(model)","value":73.5},{"time":"2015-12-22T15:54","series":"RHliq(model)","value":72.4},{"time":"2015-12-22T17:36","series":"RHliq(model)","value":74.6},{"time":"2015-12-22T19:12","series":"RHliq(model)","value":80.7},{"time":"2015-12-22T20:30","series":"RHliq(model)","value":87.8},{"time":"2015-12-22T21:48","series":"RHliq(model)","value":95.4},{"time":"2015-12-22T22:12","series":"RHliq(model)","value":97.6},{"time":"2015-12-22T22:36","series":"RHliq(model)","value":86.7},{"time":"2015-12-22T23:06","series":"RHliq(model)","value":95.4},{"time":"2015-12-22T23:42","series":"RHliq(model)","value":90.0},
{"time":"2015-12-23T00:24","series":"RHliq(model)","value":87.8},{"time":"2015-12-23T01:00","series":"RHliq(model)","value":90.0},{"time":"2015-12-23T01:42","series":"RHliq(model)","value":80.1},{"time":"2015-12-23T02:18","series":"RHliq(model)","value":84.5},{"time":"2015-12-23T03:12","series":"RHliq(model)","value":82.3},{"time":"2015-12-23T04:18","series":"RHliq(model)","value":79.0},{"time":"2015-12-23T06:00","series":"RHliq(model)","value":75.7},{"time":"2015-12-23T08:06","series":"RHliq(model)","value":75.2},{"time":"2015-12-23T10:00","series":"RHliq(model)","value":74.6},{"time":"2015-12-23T11:54","series":"RHliq(model)","value":75.5},{"time":"2015-12-23T13:42","series":"RHliq(model)","value":74.1},{"time":"2015-12-23T16:18","series":"RHliq(model)","value":73.3},{"time":"2015-12-23T18:00","series":"RHliq(model)","value":74.1},{"time":"2015-12-23T19:18","series":"RHliq(model)","value":77.9},{"time":"2015-12-23T21:00","series":"RHliq(model)","value":85.6},{"time":"2015-12-23T22:42","series":"RHliq(model)","value":91.6},
{"time":"2015-12-24T00:00","series":"RHliq(model)","value":94.3},{"time":"2015-12-24T01:12","series":"RHliq(model)","value":88.9},{"time":"2015-12-24T03:00","series":"RHliq(model)","value":81.2},{"time":"2015-12-24T04:42","series":"RHliq(model)","value":75.7},{"time":"2015-12-24T06:48","series":"RHliq(model)","value":76.3},{"time":"2015-12-24T09:48","series":"RHliq(model)","value":77.4},{"time":"2015-12-24T11:54","series":"RHliq(model)","value":75.7},{"time":"2015-12-24T14:30","series":"RHliq(model)","value":74.1},{"time":"2015-12-24T16:36","series":"RHliq(model)","value":74.1},{"time":"2015-12-24T17:54","series":"RHliq(model)","value":76.8},{"time":"2015-12-24T19:36","series":"RHliq(model)","value":84.5},{"time":"2015-12-24T21:18","series":"RHliq(model)","value":92.1},{"time":"2015-12-24T22:48","series":"RHliq(model)","value":98.7},{"time":"2015-12-24T23:30","series":"RHliq(model)","value":99.3},
{"time":"2015-12-25T00:00","series":"RHliq(model)","value":91.1},{"time":"2015-12-25T00:36","series":"RHliq(model)","value":88.9},{"time":"2015-12-25T01:24","series":"RHliq(model)","value":90.6},{"time":"2015-12-25T02:18","series":"RHliq(model)","value":92.1},{"time":"2015-12-25T03:18","series":"RHliq(model)","value":86.7},{"time":"2015-12-25T04:36","series":"RHliq(model)","value":80.7},{"time":"2015-12-25T05:54","series":"RHliq(model)","value":76.8},{"time":"2015-12-25T07:36","series":"RHliq(model)","value":76.8},{"time":"2015-12-25T09:18","series":"RHliq(model)","value":76.8},{"time":"2015-12-25T11:00","series":"RHliq(model)","value":75.7},{"time":"2015-12-25T13:36","series":"RHliq(model)","value":74.1},{"time":"2015-12-25T16:36","series":"RHliq(model)","value":72.4},{"time":"2015-12-25T19:12","series":"RHliq(model)","value":71.3},{"time":"2015-12-25T20:54","series":"RHliq(model)","value":73.0},{"time":"2015-12-25T22:24","series":"RHliq(model)","value":76.8},{"time":"2015-12-25T23:24","series":"RHliq(model)","value":80.1},{"time":"2015-12-26T00:00","series":"RHliq(model)","value":81.0}
],
"vis": [
{"time":"2015-12-21T00:30","visibility":10000},{"time":"2015-12-21T23:54","visibility":10000},{"time":"2015-12-22T00:24","visibility":718},{"time":"2015-12-22T01:24","visibility":610},{"time":"2015-12-22T02:12","visibility":445},{"time":"2015-12-22T03:00","visibility":610},{"time":"2015-12-22T03:30","visibility":660},{"time":"2015-12-22T04:00","visibility":1430},{"time":"2015-12-22T04:30","visibility":1045},{"time":"2015-12-22T05:12","visibility":990},{"time":"2015-12-22T06:12","visibility":720},{"time":"2015-12-22T07:00","visibility":990},{"time":"2015-12-22T07:30","visibility":2465},{"time":"2015-12-22T08:00","visibility":10000},{"time":"2015-12-22T11:30","visibility":10000},{"time":"2015-12-22T12:00","visibility":2140},{"time":"2015-12-22T12:30","visibility":10000},{"time":"2015-12-23T00:00","visibility":10000},{"time":"2015-12-23T00:30","visibility":555},{"time":"2015-12-23T01:06","visibility":660},{"time":"2015-12-23T02:12","visibility":1155},{"time":"2015-12-23T02:30","visibility":10000},{"time":"2015-12-23T06:00","visibility":10000},{"time":"2015-12-23T06:54","visibility":5960},{"time":"2015-12-23T07:30","visibility":10000},{"time":"2015-12-23T21:30","visibility":10000},{"time":"2015-12-23T22:00","visibility":8960},{"time":"2015-12-23T22:30","visibility":10000},{"time":"2015-12-23T23:00","visibility":5960},{"time":"2015-12-23T23:24","visibility":7000},{"time":"2015-12-24T00:00","visibility":4160},{"time":"2015-12-24T00:30","visibility":4980},{"time":"2015-12-24T01:06","visibility":7160},{"time":"2015-12-24T01:36","visibility":10000},{"time":"2015-12-25T03:24","visibility":10000},{"time":"2015-12-25T04:00","visibility":9020},{"time":"2015-12-25T04:30","visibility":3885},{"time":"2015-12-25T05:06","visibility":10000},{"time":"2015-12-25T06:00","visibility":4980},{"time":"2015-12-25T06:36","visibility":10000},{"time":"2015-12-26T00:00","visibility":10000}
],
"haze": [
{"time":"2015-12-21T00:30","haze":0},{"time":"2015-12-21T23:54","haze":0},{"time":"2015-12-22T00:24","haze":0.00004},{"time":"2015-12-22T00:54","haze":0.00035},{"time":"2015-12-22T01:48","haze":0},{"time":"2015-12-22T02:24","haze":0.00156},{"time":"2015-12-22T02:48","haze":0.00117},{"time":"2015-12-22T03:30","haze":0.00004},{"time":"2015-12-22T04:18","haze":0},{"time":"2015-12-22T04:54","haze":0.00027},{"time":"2015-12-22T06:12","haze":0},{"time":"2015-12-22T23:42","haze":0.00004},{"time":"2015-12-23T00:18","haze":0.00078},{"time":"2015-12-23T00:42","haze":0.00187},{"time":"2015-12-23T01:06","haze":0.0014},{"time":"2015-12-23T01:36","haze":0.00086},{"time":"2015-12-23T02:24","haze":0.00339},{"time":"2015-12-23T02:48","haze":0.00171},{"time":"2015-12-23T03:18","haze":0.00226},{"time":"2015-12-23T03:54","haze":0.00339},{"time":"2015-12-23T04:24","haze":0.00265},{"time":"2015-12-23T05:06","haze":0.0007},{"time":"2015-12-23T05:36","haze":0.00008},{"time":"2015-12-23T06:06","haze":0.00027},{"time":"2015-12-23T07:00","haze":0},{"time":"2015-12-23T14:54","haze":0},{"time":"2015-12-23T15:36","haze":0.00035},{"time":"2015-12-23T16:12","haze":0.00031},{"time":"2015-12-23T16:48","haze":0},{"time":"2015-12-23T19:12","haze":0.00004},{"time":"2015-12-23T20:42","haze":0.00023},{"time":"2015-12-23T22:48","haze":0.00031},{"time":"2015-12-23T23:24","haze":0.00093},{"time":"2015-12-24T00:00","haze":0.00171},{"time":"2015-12-24T00:42","haze":0.00125},{"time":"2015-12-24T02:00","haze":0.00086},{"time":"2015-12-24T03:30","haze":0.00043},{"time":"2015-12-24T04:06","haze":0.00047},{"time":"2015-12-24T05:00","haze":0.00054},{"time":"2015-12-24T05:48","haze":0},{"time":"2015-12-24T15:42","haze":0},{"time":"2015-12-24T16:06","haze":0.00058},{"time":"2015-12-24T16:42","haze":0.00012},{"time":"2015-12-24T17:48","haze":0},{"time":"2015-12-24T19:54","haze":0.00008},{"time":"2015-12-24T22:30","haze":0.00019},{"time":"2015-12-25T01:00","haze":0.00012},{"time":"2015-12-25T01:30","haze":0.00062},{"time":"2015-12-25T02:00","haze":0.00677},{"time":"2015-12-25T02:18","haze":0.00311},{"time":"2015-12-25T02:42","haze":0.00027},{"time":"2015-12-25T03:12","haze":0.00047},{"time":"2015-12-25T03:36","haze":0.00202},{"time":"2015-12-25T04:00","haze":0.00265},{"time":"2015-12-25T04:24","haze":0.0014},{"time":"2015-12-25T04:48","haze":0.00023},{"time":"2015-12-25T05:30","haze":0.00047},{"time":"2015-12-25T06:36","haze":0.00101},{"time":"2015-12-25T07:24","haze":0.00078},{"time":"2015-12-25T08:42","haze":0.00082},{"time":"2015-12-25T09:36","haze":0.00031},{"time":"2015-12-25T10:12","haze":0},{"time":"2015-12-25T14:42","haze":0},{"time":"2015-12-25T15:36","haze":0.00008},{"time":"2015-12-25T16:24","haze":0},{"time":"2015-12-26T00:00","haze":0}
]
},
"spacing": 65,
"bounds": "flush",
"vconcat": [
{
  "width": 1445, "height": 319,
  "data": {"name": "temp"},
  "mark": {"type": "line", "strokeWidth": 5.5, "strokeJoin": "round"},
  "encoding": {
    "x": {"field": "time", "type": "temporal", "title": null,
      "scale": {"domain": [{"year":2015,"month":12,"date":20,"hours":17,"minutes":56},{"year":2015,"month":12,"date":26,"hours":5,"minutes":46}], "nice": false},
      "axis": {"format": "%b %d %Y", "labelAngle": 0, "values": [{"year":2015,"month":12,"date":21},{"year":2015,"month":12,"date":22},{"year":2015,"month":12,"date":23},{"year":2015,"month":12,"date":24},{"year":2015,"month":12,"date":25},{"year":2015,"month":12,"date":26}]}},
    "y": {"field": "value", "type": "quantitative", "title": "Temperature",
      "scale": {"domain": [-42.25, -21.03], "nice": false, "zero": false},
      "axis": {"values": [-40, -35, -30, -25], "titlePadding": 16}},
    "color": {"field": "series", "type": "nominal",
      "scale": {"domain": ["T(obs)", "T(model)"], "range": ["#1f77b4", "#ff0000"]},
      "legend": {"title": null, "orient": "none", "legendX": 1489, "legendY": 187}}
  }
},
{
  "width": 1445, "height": 318,
  "data": {"name": "rh"},
  "encoding": {
    "x": {"field": "time", "type": "temporal", "title": null,
      "scale": {"domain": [{"year":2015,"month":12,"date":20,"hours":17,"minutes":56},{"year":2015,"month":12,"date":26,"hours":5,"minutes":46}], "nice": false},
      "axis": {"format": "%b %d %Y", "labelAngle": 0, "values": [{"year":2015,"month":12,"date":21},{"year":2015,"month":12,"date":22},{"year":2015,"month":12,"date":23},{"year":2015,"month":12,"date":24},{"year":2015,"month":12,"date":25},{"year":2015,"month":12,"date":26}]}}
  },
  "layer": [
    {"transform": [{"filter": "datum.series === 'RHice(obs)'"}],
     "mark": {"type": "area", "color": "#1f77b4", "opacity": 0.2},
     "encoding": {"y": {"field": "lo", "type": "quantitative", "title": null, "scale": {"domain": [45.07, 149.3], "nice": false, "zero": false}, "axis": {"values": [50, 75, 100, 125]}}, "y2": {"field": "hi"}}},
    {"transform": [{"filter": "datum.series === 'RHliq(obs)'"}],
     "mark": {"type": "area", "color": "#17becf", "opacity": 0.2},
     "encoding": {"y": {"field": "lo", "type": "quantitative"}, "y2": {"field": "hi"}}},
    {"mark": {"type": "line", "strokeWidth": 5.5, "strokeJoin": "round"},
     "encoding": {
       "y": {"field": "value", "type": "quantitative"},
       "color": {"field": "series", "type": "nominal",
         "scale": {"domain": ["RHice(obs)", "RHliq(obs)", "RHice(model)", "RHliq(model)"], "range": ["#1f77b4", "#17becf", "#ff0000", "#ff0000"]},
         "legend": {"title": null, "orient": "none", "legendX": 1489, "legendY": 93}},
       "strokeDash": {"field": "series", "type": "nominal",
         "scale": {"domain": ["RHice(obs)", "RHliq(obs)", "RHice(model)", "RHliq(model)"], "range": [[1,0],[1,0],[1,0],[22,10]]},
         "legend": {"title": null, "orient": "none", "legendX": 1489, "legendY": 93}}
     }}
  ]
},
{
  "width": 1445, "height": 318,
  "encoding": {
    "x": {"field": "time", "type": "temporal", "title": null,
      "scale": {"domain": [{"year":2015,"month":12,"date":20,"hours":18,"minutes":30},{"year":2015,"month":12,"date":26,"hours":6,"minutes":3}], "nice": false},
      "axis": {"format": "%b %d %Y", "labelAngle": -30, "labelAlign": "right", "labelBaseline": "top", "labelOffset": -13, "values": [{"year":2015,"month":12,"date":21},{"year":2015,"month":12,"date":22},{"year":2015,"month":12,"date":23},{"year":2015,"month":12,"date":24},{"year":2015,"month":12,"date":25},{"year":2015,"month":12,"date":26}]}}
  },
  "layer": [
    {"data": {"name": "vis"},
     "mark": {"type": "line", "color": "#1f77b4", "strokeWidth": 5.5, "strokeJoin": "round"},
     "encoding": {"y": {"field": "visibility", "type": "quantitative", "title": "Visibility (m)",
        "scale": {"domain": [-25, 10465], "nice": false, "zero": false},
        "axis": {"values": [0, 2500, 5000, 7500, 10000], "format": "d"}}}},
    {"data": {"name": "haze"},
     "mark": {"type": "line", "color": "#ff0000", "strokeWidth": 5.5, "strokeDash": [22, 10], "strokeJoin": "round"},
     "encoding": {"y": {"field": "haze", "type": "quantitative", "title": "Haze (g/kg)",
        "scale": {"domain": [-0.000338, 0.007108], "nice": false, "zero": false},
        "axis": {"orient": "right", "grid": false, "values": [0, 0.002, 0.004, 0.006], "format": ".3f", "titleAngle": -90, "titleBaseline": "top", "titlePadding": 14}}}}
  ],
  "resolve": {"scale": {"y": "independent"}}
}
],
"resolve": {"scale": {"x": "independent", "y": "independent", "color": "independent", "strokeDash": "independent"}, "legend": {"color": "independent", "strokeDash": "independent"}}
}
